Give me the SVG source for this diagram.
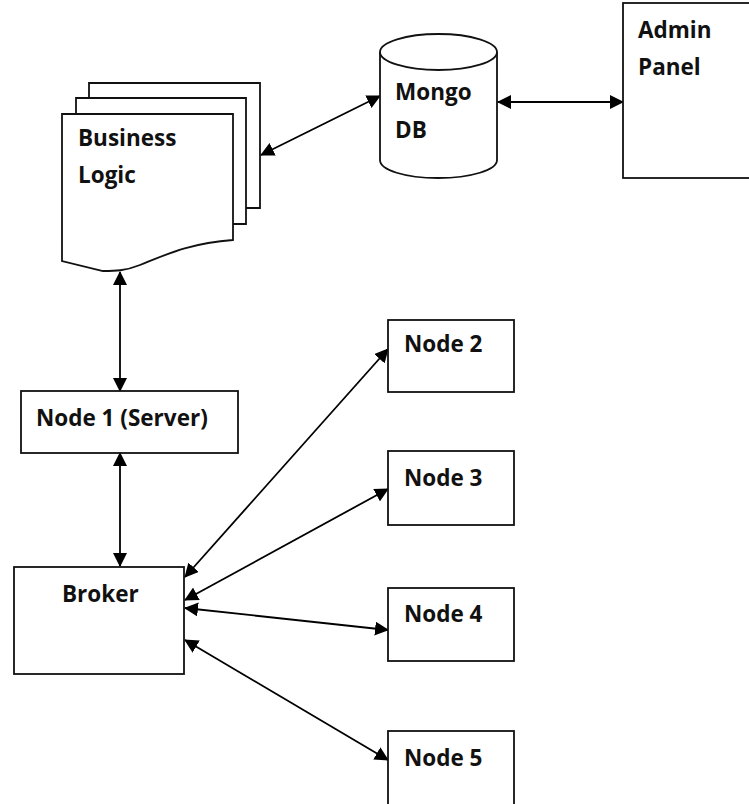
<svg xmlns="http://www.w3.org/2000/svg" width="749" height="804" viewBox="0 0 749 804">
<defs>
<marker id="a" viewBox="0 0 14 14" refX="13" refY="7" markerUnits="userSpaceOnUse" markerWidth="14" markerHeight="14" orient="auto-start-reverse"><path d="M0 0L14 7L0 14Z" fill="#000"/></marker>
</defs>
<style>
.s{fill:#fff;stroke:#111;stroke-width:1.8}
.c{fill:none;stroke:#000;stroke-width:1.8;marker-start:url(#a);marker-end:url(#a)}
text{font-family:"Open Sans","Liberation Sans",sans-serif;font-weight:700;font-size:22.500px;fill:#111}
</style>
<rect width="749" height="804" fill="#fff"/>
<g id="connectors">
<line class="c" x1="120" y1="272" x2="120" y2="391"/>
<line class="c" x1="120" y1="453" x2="120" y2="566"/>
<line class="c" x1="261" y1="155" x2="380" y2="96"/>
<line class="c" x1="498" y1="102" x2="623" y2="102"/>
<line class="c" x1="185" y1="577" x2="388" y2="349"/>
<line class="c" x1="185" y1="600" x2="388" y2="489"/>
<line class="c" x1="185" y1="608" x2="388" y2="630"/>
<line class="c" x1="185" y1="640" x2="388" y2="760"/>
</g>
<g id="business-logic">
<path class="s" d="M89 114V83H260V208H246"/>
<path class="s" d="M76 130V98H246V224H233"/>
<path class="s" d="M62 114H233V240C190 243 165 255 140 265C125 271 115 271 103 271L62 261Z"/>
<text x="78" y="146">Business</text>
<text x="78" y="183">Logic</text>
</g>
<g id="mongo-db">
<path class="s" d="M380 52V160C380 170 405 178 438 178C471 178 497 170 497 160V52"/>
<ellipse class="s" cx="438.500" cy="52" rx="58.500" ry="18"/>
<text x="395" y="100">Mongo</text>
<text x="395" y="138">DB</text>
</g>
<g id="admin-panel">
<rect class="s" x="623" y="3" width="140" height="175"/>
<text x="638" y="38">Admin</text>
<text x="638" y="75">Panel</text>
</g>
<g id="node-1">
<rect class="s" x="21" y="391" width="217" height="62"/>
<text x="36" y="426">Node 1 (Server)</text>
</g>
<g id="broker">
<rect class="s" x="14" y="567" width="170" height="107"/>
<text x="62" y="602">Broker</text>
</g>
<g id="node-2">
<rect class="s" x="388" y="320" width="126" height="72"/>
<text x="404" y="352">Node 2</text>
</g>
<g id="node-3">
<rect class="s" x="388" y="451" width="126" height="74"/>
<text x="404" y="486">Node 3</text>
</g>
<g id="node-4">
<rect class="s" x="388" y="588" width="126" height="73"/>
<text x="404" y="622">Node 4</text>
</g>
<g id="node-5">
<rect class="s" x="388" y="731" width="126" height="90"/>
<text x="404" y="766">Node 5</text>
</g>
</svg>
